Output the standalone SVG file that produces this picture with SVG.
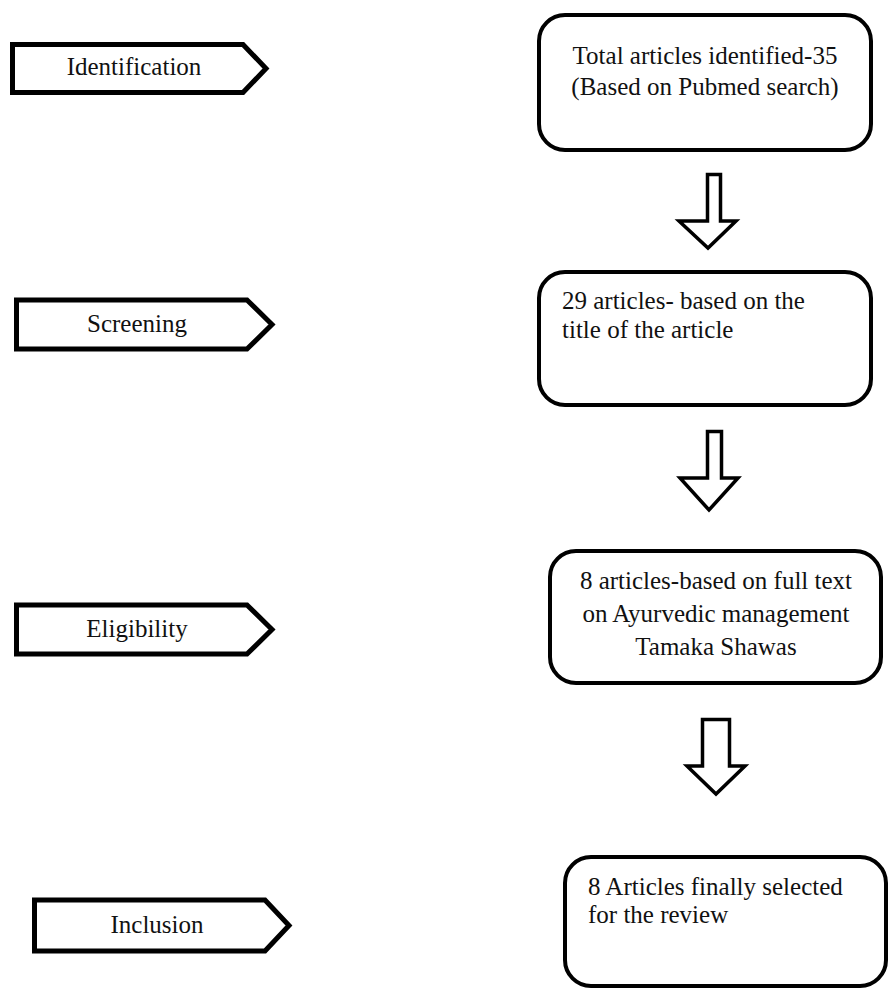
<svg xmlns="http://www.w3.org/2000/svg" width="889" height="990" viewBox="0 0 889 990">
<style>
.stage{fill:#fff;stroke:#000;stroke-width:5;stroke-linejoin:miter}
.box{fill:#fff;stroke:#000;stroke-width:4}
.arr{fill:#fff;stroke:#000;stroke-width:3.5;stroke-linejoin:miter}
text{font-family:"Liberation Serif","Times New Roman",serif;font-size:25px;fill:#111}
.c{text-anchor:middle}
</style>
<rect width="889" height="990" fill="#fff"/>
<g id="stage-identification">
<path class="stage" d="M12.5,44.5 H243 L266,68.5 L243,92.5 H12.5 Z"/>
<text class="c" x="134" y="75">Identification</text>
</g>
<g id="stage-screening">
<path class="stage" d="M16.5,300 H247 L272,324.5 L247,349 H16.5 Z"/>
<text class="c" x="137" y="332">Screening</text>
</g>
<g id="stage-eligibility">
<path class="stage" d="M16.5,605 H247 L272,629.5 L247,654 H16.5 Z"/>
<text class="c" x="137" y="637">Eligibility</text>
</g>
<g id="stage-inclusion">
<path class="stage" d="M34.5,900 H265 L289,925.5 L265,951 H34.5 Z"/>
<text class="c" x="157" y="933">Inclusion</text>
</g>
<g id="box-identified">
<rect class="box" x="539" y="15" width="332" height="135" rx="26"/>
<text class="c" x="705" y="64">Total articles identified-35</text>
<text class="c" x="705" y="95">(Based on Pubmed search)</text>
</g>
<g id="box-screened">
<rect class="box" x="539" y="272" width="332" height="133" rx="26"/>
<text x="562" y="309">29 articles- based on the</text>
<text x="562" y="338">title of the article</text>
</g>
<g id="box-eligible">
<rect class="box" x="550" y="551" width="331" height="132" rx="26"/>
<text class="c" x="716" y="589">8 articles-based on full text</text>
<text class="c" x="716" y="622">on Ayurvedic management</text>
<text class="c" x="716" y="655">Tamaka Shawas</text>
</g>
<g id="box-included">
<rect class="box" x="565" y="857" width="321" height="129" rx="26"/>
<text x="588" y="895">8 Articles finally selected</text>
<text x="588" y="923">for the review</text>
</g>
<g id="connectors">
<path class="arr" d="M707.5,174.5 H720.5 V221 H736 L708,248 L679,221 H707.5 Z"/>
<path class="arr" d="M707.5,431.5 H721.5 V478 H738 L709,510 L680,478 H707.5 Z"/>
<path class="arr" d="M702.5,719.5 H729.5 V766 H745 L716,794 L687,766 H702.5 Z"/>
</g>
</svg>
